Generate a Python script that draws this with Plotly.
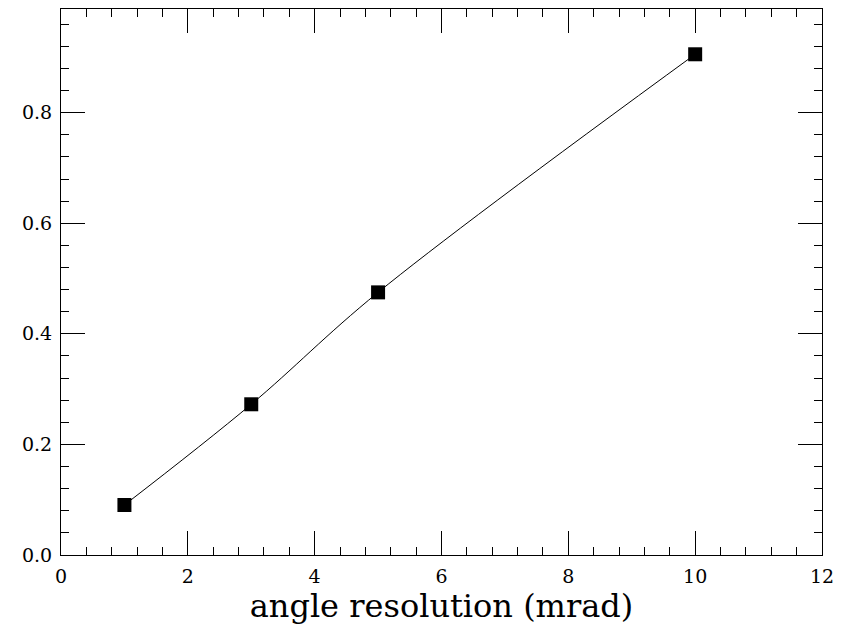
import plotly.graph_objects as go

# angle resolution (mrad) vs. efficiency
resolution = [1, 3, 5, 10]
efficiency = [0.0904, 0.2726, 0.475, 0.9056]

x_ticks = [0, 2, 4, 6, 8, 10, 12]
y_ticks = [0.0, 0.2, 0.4, 0.6, 0.8]

fig = go.Figure()
fig.add_trace(go.Scatter(
    x=resolution, y=efficiency,
    mode="lines+markers",
    line=dict(color="black", width=1, shape="spline", smoothing=1.0),
    marker=dict(symbol="square", size=14, color="black"),
    showlegend=False,
))

tick_font = dict(family="DejaVu Serif", size=19, color="black")
common = dict(
    showgrid=False, zeroline=False, automargin=False,
    showline=True, linecolor="black", linewidth=1, mirror="ticks",
    ticks="inside", ticklen=24, tickwidth=1, tickcolor="black",
    tickfont=tick_font,
)

fig.update_xaxes(
    range=[0, 12], tickvals=x_ticks, ticktext=[str(v) for v in x_ticks],
    minor=dict(ticks="inside", ticklen=8, tickwidth=1, tickcolor="black", dtick=0.4),
    title=dict(text="angle resolution (mrad)",
               font=dict(family="DejaVu Serif", size=32, color="black"), standoff=4),
    ticklabelstandoff=4,
    **common,
)
fig.update_yaxes(
    range=[0, 0.9875], tickvals=y_ticks, ticktext=[f"{v:.1f}" for v in y_ticks],
    minor=dict(ticks="inside", ticklen=8, tickwidth=1, tickcolor="black", dtick=0.04),
    ticklabelstandoff=4,
    **common,
)

fig.update_layout(
    width=841, height=630,
    margin=dict(l=61, r=19, t=9, b=75),
    paper_bgcolor="white", plot_bgcolor="white",
)

fig.write_html("out.html")
